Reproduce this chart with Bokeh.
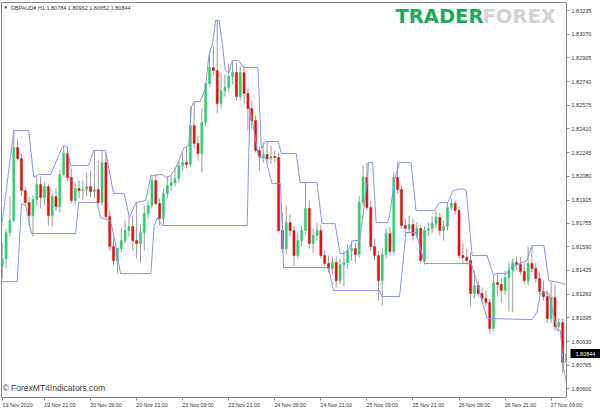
from bokeh.plotting import figure
from bokeh.models import ColumnDataSource, Range1d, LinearAxis, FixedTicker, Label, PrintfTickFormatter
from bokeh.embed import file_html
from bokeh.resources import INLINE

symbol_title = "GBPAUD#,H1  1.80784 1.80962 1.80652 1.80844"
last_price = 1.80844

opens = [1.81452, 1.81508, 1.81689, 1.81772, 1.82281, 1.82204, 1.81981, 1.81898, 1.81807, 1.81919,
         1.82023, 1.81933, 1.82009, 1.81807, 1.81940, 1.81870, 1.82093, 1.82239, 1.82072, 1.81912,
         1.81995, 1.81981, 1.81988, 1.82009, 1.81974, 1.81988, 1.81898, 1.82176, 1.81800, 1.81591,
         1.81494, 1.81577, 1.81633, 1.81703, 1.81731, 1.81633, 1.81612, 1.81689, 1.81821, 1.81877,
         1.82051, 1.81891, 1.81786, 1.81960, 1.82016, 1.82037, 1.82065, 1.82155, 1.82176, 1.82162,
         1.82434, 1.82309, 1.82239, 1.82455, 1.82727, 1.82838, 1.82817, 1.82587, 1.82678, 1.82699,
         1.82775, 1.82803, 1.82636, 1.82803, 1.82657, 1.82552, 1.82469, 1.82260, 1.82218, 1.82232,
         1.82204, 1.82218, 1.82211, 1.81703, 1.81577, 1.81758, 1.81703, 1.81529, 1.81633, 1.81703,
         1.81856, 1.81612, 1.81668, 1.81703, 1.81529, 1.81473, 1.81438, 1.81480, 1.81354, 1.81466,
         1.81480, 1.81563, 1.81577, 1.81536, 1.81898, 1.82072, 1.81863, 1.81591, 1.81529, 1.81354,
         1.81536, 1.81682, 1.81556, 1.82072, 1.81988, 1.81738, 1.81717, 1.81744, 1.81668, 1.81717,
         1.81494, 1.81703, 1.81717, 1.81751, 1.81793, 1.81703, 1.81731, 1.81863, 1.81891, 1.81842,
         1.81529, 1.81515, 1.81494, 1.81264, 1.81320, 1.81264, 1.81229, 1.81201, 1.81020, 1.81341,
         1.81327, 1.81285, 1.81375, 1.81424, 1.81480, 1.81466, 1.81417, 1.81354, 1.81473, 1.81438,
         1.81368, 1.81278, 1.81243, 1.81090, 1.81236, 1.81034, 1.81062, 1.80784]

highs = [1.81619, 1.81717, 1.81940, 1.82392, 1.82343, 1.82239, 1.82009, 1.81940, 1.81946, 1.82079,
         1.82079, 1.82037, 1.82030, 1.81960, 1.82002, 1.82121, 1.82295, 1.82288, 1.82135, 1.82030,
         1.82051, 1.82051, 1.82107, 1.82121, 1.82260, 1.82190, 1.82260, 1.82246, 1.81842, 1.81647,
         1.81577, 1.81717, 1.81772, 1.81793, 1.81807, 1.81898, 1.81738, 1.81877, 1.81912, 1.82086,
         1.82093, 1.81926, 1.81995, 1.82079, 1.82086, 1.82141, 1.82190, 1.82246, 1.82288, 1.82566,
         1.82601, 1.82364, 1.82552, 1.82713, 1.82922, 1.82991, 1.83165, 1.82803, 1.82789, 1.82866,
         1.82887, 1.82873, 1.82845, 1.82852, 1.82692, 1.82608, 1.82504, 1.82288, 1.82316, 1.82323,
         1.82295, 1.82260, 1.82246, 1.81828, 1.81877, 1.81814, 1.81731, 1.81689, 1.81738, 1.82037,
         1.81912, 1.81717, 1.81758, 1.81744, 1.81563, 1.81529, 1.81522, 1.81522, 1.81508, 1.81563,
         1.81605, 1.81633, 1.81619, 1.81946, 1.82155, 1.82176, 1.81912, 1.81647, 1.81563, 1.81577,
         1.81717, 1.81731, 1.82107, 1.82183, 1.82016, 1.81786, 1.81807, 1.81786, 1.81758, 1.81744,
         1.81731, 1.81758, 1.81800, 1.81842, 1.81828, 1.81772, 1.81898, 1.81926, 1.81912, 1.81870,
         1.81612, 1.81577, 1.81549, 1.81424, 1.81354, 1.81306, 1.81285, 1.81229, 1.81389, 1.81403,
         1.81368, 1.81424, 1.81480, 1.81508, 1.81522, 1.81522, 1.81480, 1.81591, 1.81598, 1.81480,
         1.81410, 1.81354, 1.81285, 1.81347, 1.81327, 1.81090, 1.81090, 1.80962]

lows = [1.81368, 1.81438, 1.81661, 1.81758, 1.82190, 1.81946, 1.81877, 1.81738, 1.81661, 1.81877,
        1.81856, 1.81877, 1.81738, 1.81731, 1.81842, 1.81828, 1.82079, 1.82051, 1.81891, 1.81884,
        1.81926, 1.81912, 1.81940, 1.81933, 1.81926, 1.81884, 1.81877, 1.81786, 1.81563, 1.81459,
        1.81403, 1.81549, 1.81612, 1.81661, 1.81563, 1.81508, 1.81480, 1.81563, 1.81786, 1.81856,
        1.81877, 1.81738, 1.81744, 1.81926, 1.81981, 1.82009, 1.82037, 1.82121, 1.82135, 1.82141,
        1.82274, 1.82190, 1.82107, 1.82427, 1.82706, 1.82782, 1.82518, 1.82552, 1.82636, 1.82664,
        1.82720, 1.82608, 1.82608, 1.82587, 1.82399, 1.82413, 1.82246, 1.82121, 1.82176, 1.82176,
        1.82169, 1.82176, 1.81689, 1.81549, 1.81536, 1.81661, 1.81459, 1.81508, 1.81591, 1.81675,
        1.81577, 1.81549, 1.81633, 1.81508, 1.81452, 1.81410, 1.81396, 1.81306, 1.81327, 1.81313,
        1.81438, 1.81494, 1.81480, 1.81515, 1.81870, 1.81842, 1.81563, 1.81494, 1.81215, 1.81180,
        1.81508, 1.81529, 1.81536, 1.81960, 1.81717, 1.81661, 1.81682, 1.81633, 1.81647, 1.81473,
        1.81466, 1.81661, 1.81689, 1.81717, 1.81668, 1.81633, 1.81703, 1.81842, 1.81814, 1.81508,
        1.81473, 1.81480, 1.81173, 1.81229, 1.81243, 1.81201, 1.81173, 1.80985, 1.81006, 1.81243,
        1.81201, 1.81257, 1.81139, 1.81132, 1.81424, 1.81396, 1.81327, 1.81320, 1.81410, 1.81341,
        1.81257, 1.81215, 1.81062, 1.81062, 1.81006, 1.81006, 1.80714, 1.80652]

closes = [1.81508, 1.81689, 1.81772, 1.82281, 1.82204, 1.81981, 1.81898, 1.81807, 1.81919, 1.82023,
          1.81933, 1.82009, 1.81807, 1.81940, 1.81870, 1.82093, 1.82239, 1.82072, 1.81912, 1.81995,
          1.81981, 1.81988, 1.82009, 1.81974, 1.81988, 1.81898, 1.82176, 1.81800, 1.81591, 1.81494,
          1.81577, 1.81633, 1.81703, 1.81731, 1.81633, 1.81612, 1.81689, 1.81821, 1.81877, 1.82051,
          1.81891, 1.81786, 1.81960, 1.82016, 1.82037, 1.82065, 1.82155, 1.82176, 1.82162, 1.82434,
          1.82309, 1.82239, 1.82455, 1.82727, 1.82838, 1.82817, 1.82587, 1.82678, 1.82699, 1.82775,
          1.82803, 1.82636, 1.82803, 1.82657, 1.82552, 1.82469, 1.82260, 1.82218, 1.82232, 1.82204,
          1.82218, 1.82211, 1.81703, 1.81577, 1.81758, 1.81703, 1.81529, 1.81633, 1.81703, 1.81856,
          1.81612, 1.81668, 1.81703, 1.81529, 1.81473, 1.81438, 1.81480, 1.81354, 1.81466, 1.81480,
          1.81563, 1.81577, 1.81536, 1.81898, 1.82072, 1.81863, 1.81591, 1.81529, 1.81354, 1.81536,
          1.81682, 1.81556, 1.82072, 1.81988, 1.81738, 1.81717, 1.81744, 1.81668, 1.81717, 1.81494,
          1.81703, 1.81717, 1.81751, 1.81793, 1.81703, 1.81731, 1.81863, 1.81891, 1.81842, 1.81529,
          1.81515, 1.81494, 1.81264, 1.81320, 1.81264, 1.81229, 1.81201, 1.81020, 1.81341, 1.81327,
          1.81285, 1.81375, 1.81424, 1.81480, 1.81466, 1.81417, 1.81354, 1.81473, 1.81438, 1.81368,
          1.81278, 1.81243, 1.81090, 1.81236, 1.81034, 1.81062, 1.80784, 1.80844]

# channel lines (bar position, price)
upper_idx = [-0.46, 3.0, 6.9, 8.2, 9.5, 12.6, 15.6, 16.2, 16.9, 17.8, 22.5, 23.8, 26.9, 29.0, 31.8,
             33.1, 34.8, 37.4, 38.7, 41.7, 42.6, 43.9, 45.2, 47.4, 48.6, 49.3, 49.9, 51.6, 52.9, 53.9,
             54.8, 55.6, 56.5, 57.4, 58.1, 59.0, 59.9, 61.6, 62.8, 66.6, 67.5, 68.6, 71.9, 72.7, 76.6,
             77.6, 82.0, 83.3, 86.7, 88.0, 89.1, 90.4, 91.3, 93.1, 94.4, 95.2, 95.4, 96.5, 97.4, 100.4,
             100.9, 102.2, 103.5, 106.5, 107.8, 112.6, 113.9, 116.1, 117.4, 119.9, 120.9, 122.4, 126.3,
             128.0, 128.5, 131.5, 132.4, 136.7, 138.0, 141.1, 142.4, 145.0, 147.0]
upper_px = [1.81668, 1.82399, 1.82399, 1.82072, 1.82093, 1.82093, 1.82281, 1.82295, 1.82281, 1.82155,
            1.82155, 1.82260, 1.82260, 1.81960, 1.81960, 1.81793, 1.81898, 1.81912, 1.82086, 1.82093,
            1.82072, 1.82086, 1.82141, 1.82281, 1.82295, 1.82566, 1.82601, 1.82601, 1.82692, 1.82936,
            1.83005, 1.83165, 1.83165, 1.82991, 1.82817, 1.82803, 1.82887, 1.82887, 1.82838, 1.82838,
            1.82274, 1.82323, 1.82323, 1.82239, 1.82239, 1.82037, 1.82037, 1.81751, 1.81751, 1.81543,
            1.81543, 1.81577, 1.81633, 1.81633, 1.81898, 1.82072, 1.82176, 1.82176, 1.81758, 1.81758,
            1.81807, 1.82051, 1.82176, 1.82176, 1.81842, 1.81842, 1.81898, 1.81898, 1.81981, 1.81995,
            1.81981, 1.81529, 1.81529, 1.81389, 1.81403, 1.81403, 1.81445, 1.81494, 1.81598, 1.81598,
            1.81354, 1.81341, 1.81327]
lower_idx = [-0.46, 3.9, 5.0, 6.1, 7.6, 19.1, 19.9, 24.7, 25.6, 28.2, 29.5, 30.8, 38.7, 39.6, 40.4,
             41.7, 63.8, 64.5, 66.8, 68.6, 69.4, 70.3, 72.5, 73.3, 85.0, 86.3, 98.3, 98.9, 103.5, 105.2,
             107.8, 110.0, 122.2, 123.3, 126.3, 138.0, 139.3, 140.2, 141.5, 142.4, 143.7, 144.6, 145.4,
             146.3, 147.0]
lower_px = [1.81347, 1.81347, 1.81891, 1.81877, 1.81682, 1.81682, 1.81898, 1.81898, 1.81793, 1.81772,
            1.81612, 1.81403, 1.81403, 1.81738, 1.81793, 1.81738, 1.81738, 1.82559, 1.82211, 1.82211,
            1.82121, 1.82030, 1.82030, 1.81445, 1.81445, 1.81285, 1.81285, 1.81243, 1.81243, 1.81689,
            1.81689, 1.81473, 1.81473, 1.81375, 1.81090, 1.81083, 1.81132, 1.81264, 1.81271, 1.81264,
            1.81111, 1.81006, 1.81006, 1.80728, 1.80652]

price_ticks = [1.83235, 1.83070, 1.82905, 1.82740, 1.82575, 1.82410, 1.82245, 1.82080, 1.81915,
               1.81755, 1.81590, 1.81425, 1.81260, 1.81095, 1.80930, 1.80765, 1.80600]
time_tick_idx = [0, 11, 23, 35, 47, 59, 71, 83, 95, 107, 119, 131, 143]
time_tick_labels = ["19 Nov 2020", "19 Nov 21:00", "20 Nov 09:00", "20 Nov 21:00", "23 Nov 09:00",
                    "23 Nov 21:00", "24 Nov 09:00", "24 Nov 21:00", "25 Nov 09:00", "25 Nov 21:00",
                    "26 Nov 09:00", "26 Nov 21:00", "27 Nov 09:00"]

BULL = "#2bcf74"
BEAR = "#e3100f"
WICK = "#9b9b9b"
CHAN = "#8496e8"
FRAME = "#8c8c8c"
AXTXT = "#333333"
FONT = "Liberation Sans"

bar_index = list(range(len(opens)))
colors = [BULL if c >= o else BEAR for o, c in zip(opens, closes)]
tops = [max(o, c) for o, c in zip(opens, closes)]
bottoms = [min(o, c) for o, c in zip(opens, closes)]
src = ColumnDataSource(dict(x=bar_index, h=highs, l=lows, top=tops, bottom=bottoms, color=colors))

FW, FH = 565, 395
p = figure(width=600, height=410, output_backend="svg", toolbar_location=None,
           x_range=Range1d(-0.2, 147.0), y_range=Range1d(1.80540, 1.83291),
           x_axis_location=None, y_axis_location="right",
           min_border_left=1, min_border_top=2, min_border_right=34, min_border_bottom=13,
           background_fill_color="white", border_fill_color="white")
p.grid.visible = False
p.outline_line_color = FRAME

# price axis on the right
yax = p.yaxis[0]
yax.ticker = FixedTicker(ticks=price_ticks)
yax.formatter = PrintfTickFormatter(format="%.5f")
yax.minor_tick_line_color = None
yax.major_tick_in = 0
yax.major_tick_out = 3
yax.major_tick_line_color = FRAME
yax.axis_line_color = FRAME
yax.major_label_standoff = 2
yax.major_label_text_font = FONT
yax.major_label_text_font_size = "5.5px"
yax.major_label_text_color = AXTXT

# current price box (black tick used as box, white label on it)
box_axis = LinearAxis(ticker=FixedTicker(ticks=[last_price], minor_ticks=[last_price]),
                      formatter=PrintfTickFormatter(format="%.5f"),
                      axis_line_color=None, major_tick_line_color=None,
                      major_tick_in=0, major_tick_out=7,
                      minor_tick_in=24, minor_tick_out=7, minor_tick_line_width=9,
                      minor_tick_line_color="black",
                      major_label_standoff=-26, major_label_text_color="white",
                      major_label_text_font=FONT, major_label_text_font_size="5.5px")
p.add_layout(box_axis, "right")

# time axis: short ticks at the bar, labels to the right of each tick
label_pos = [t + 4 for t in time_tick_idx]
xax = LinearAxis(ticker=FixedTicker(ticks=label_pos, minor_ticks=time_tick_idx),
                 major_label_overrides={pos: lab for pos, lab in zip(label_pos, time_tick_labels)},
                 major_tick_line_color=None, major_tick_in=0, major_tick_out=3,
                 minor_tick_in=0, minor_tick_out=3, minor_tick_line_color=FRAME,
                 axis_line_color=FRAME, major_label_standoff=1, major_label_text_font=FONT,
                 major_label_text_font_size="5.3px", major_label_text_color=AXTXT)
p.add_layout(xax, "below")

p.segment(x0="x", y0="l", x1="x", y1="h", source=src, line_color=WICK, line_width=1)
p.vbar(x="x", width=0.55, top="top", bottom="bottom", source=src,
       fill_color="color", line_color="color", line_width=0.5)

p.line(upper_idx, upper_px, line_color=CHAN, line_width=1)
p.line(lower_idx, lower_px, line_color=CHAN, line_width=1)

p.add_layout(Label(x=2, y=FH - 5, x_units="screen", y_units="screen", text="\u25bc",
                   text_font_size="4.5px", text_color="#222222", text_baseline="middle"))
p.add_layout(Label(x=9, y=FH - 5, x_units="screen", y_units="screen", text=symbol_title,
                   text_font=FONT, text_font_size="5.5px", text_color="#333333", text_baseline="middle"))
p.add_layout(Label(x=1, y=10, x_units="screen", y_units="screen", text="\u00a9 ForexMT4Indicators.com",
                   text_font=FONT, text_font_size="8.5px", text_color="#3c3c3c", text_baseline="middle"))
p.add_layout(Label(x=394, y=FH - 14, x_units="screen", y_units="screen", text="TRADER",
                   text_font="DejaVu Sans", text_font_style="bold", text_font_size="19.5px",
                   text_color="#1ea85b", text_baseline="middle"))
p.add_layout(Label(x=481, y=FH - 14, x_units="screen", y_units="screen", text="FOREX",
                   text_font="DejaVu Sans", text_font_style="bold", text_font_size="19.5px",
                   text_color="#d3d3d3", text_baseline="middle"))

open("out.html", "w").write(file_html(p, INLINE))
